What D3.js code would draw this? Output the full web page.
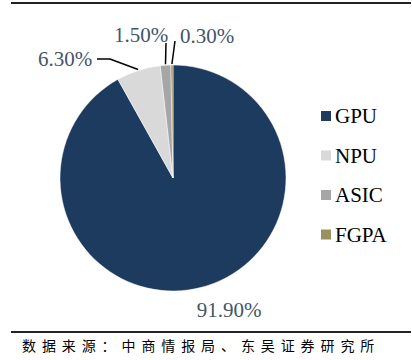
<!DOCTYPE html>
<html>
<head>
<meta charset="utf-8">
<script src="https://cdn.jsdelivr.net/npm/d3@7"></script>
<style>
  body { margin: 0; background: #fff; }
  svg { display: block; }
</style>
</head>
<body>
<svg id="chart" width="412" height="360"></svg>
<script>
// values
var categories = ["GPU", "NPU", "ASIC", "FGPA"];
var shares = [91.9, 6.3, 1.5, 0.3];
var labels = ["91.90%", "6.30%", "1.50%", "0.30%"];
var colors = ["#1d3a5f", "#d9d9d9", "#a6a6a6", "#9a9160"];

var svg = d3.select("#chart");
var cx = 173, cy = 178, r = 113;
var serif = "'Liberation Serif', 'Times New Roman', serif";

// frame lines
svg.append("line").attr("x1", 11).attr("x2", 411).attr("y1", 3).attr("y2", 3)
  .attr("stroke", "#222").attr("stroke-width", 2);
svg.append("line").attr("x1", 11).attr("x2", 411).attr("y1", 332).attr("y2", 332)
  .attr("stroke", "#222").attr("stroke-width", 2);

var pie = d3.pie().sort(null).value(function(d) { return d; });
var arcs = pie(shares);
var arc = d3.arc().innerRadius(0).outerRadius(r);

var g = svg.append("g").attr("transform", "translate(" + cx + "," + cy + ")");

g.selectAll("path.slice")
  .data(arcs)
  .enter().append("path")
  .attr("class", "slice")
  .attr("d", arc)
  .attr("fill", function(d, i) { return colors[i]; })
  .attr("stroke", "#fff")
  .attr("stroke-width", 0.5);

// where each label sits, and the bends of its leader line
var labelPos = [
  { x: 229, y: 317, anchor: "middle", line: null },
  { x: 38, y: 66, anchor: "start", line: [[97, 59], [110, 59]] },
  { x: 141, y: 42, anchor: "middle", line: [[166, 43]] },
  { x: 180, y: 43, anchor: "start", line: [[175, 41]] }
];

arcs.forEach(function(d, i) {
  var p = labelPos[i];
  if (p.line) {
    var mid = (d.startAngle + d.endAngle) / 2;
    var end = [cx + Math.sin(mid) * (r + 1), cy - Math.cos(mid) * (r + 1)];
    svg.append("path")
      .attr("d", d3.line()(p.line.concat([end])))
      .attr("fill", "none")
      .attr("stroke", "#000")
      .attr("stroke-width", 1.5);
  }
  svg.append("text")
    .attr("x", p.x).attr("y", p.y)
    .attr("text-anchor", p.anchor)
    .attr("font-family", serif)
    .attr("font-size", 21)
    .attr("fill", "#44546a")
    .text(labels[i]);
});

// legend
var item = svg.append("g").selectAll("g")
  .data(categories)
  .enter().append("g")
  .attr("transform", function(d, i) { return "translate(321," + (116 + i * 39.5) + ")"; });
item.append("rect")
  .attr("x", 0).attr("y", -5).attr("width", 10).attr("height", 10)
  .attr("fill", function(d, i) { return colors[i]; });
item.append("text")
  .attr("x", 14).attr("y", 7)
  .attr("font-family", serif)
  .attr("font-size", 21)
  .attr("fill", "#000")
  .text(function(d) { return d; });

// source note
svg.append("text")
  .attr("x", 22).attr("y", 351)
  .attr("font-family", "'Noto Sans CJK SC', sans-serif")
  .attr("font-size", 14)
  .attr("letter-spacing", 5.9)
  .attr("fill", "#000")
  .text("数据来源：中商情报局、东吴证券研究所");
</script>
</body>
</html>
